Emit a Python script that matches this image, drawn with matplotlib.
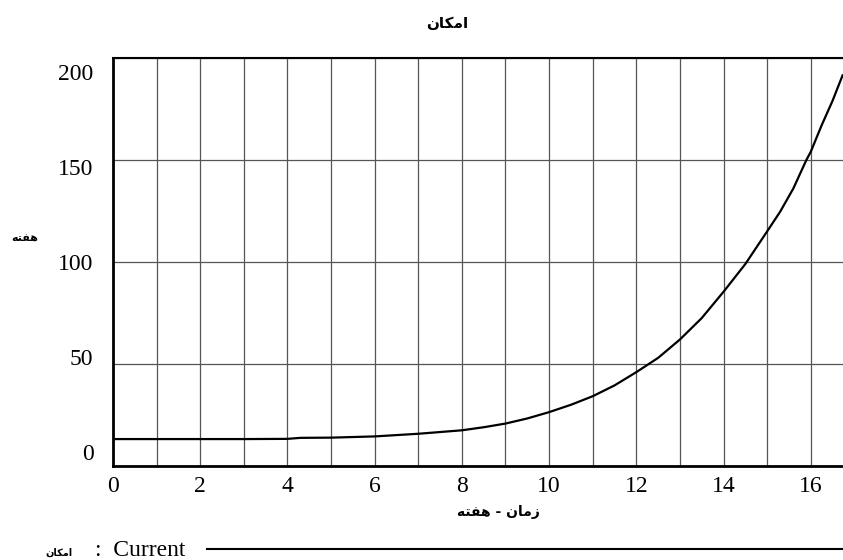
import numpy as np
import matplotlib.pyplot as plt
from matplotlib.lines import Line2D

# Persian strings given in presentation forms, visual order (matplotlib has no shaping)
title_txt = "\uFEE5\uFE8E\uFB91\uFEE3\uFE8D"                       # امکان
ylabel_txt = "\uFEEA\uFE98\uFED4\uFEEB"                            # هفته
xlabel_txt = "\uFEEA\uFE98\uFED4\uFEEB - \uFEE5\uFE8E\uFEE3\uFEAF"  # زمان - هفته

# values
weeks = [0, 1, 2, 3, 4, 4.3, 5, 6, 7, 8, 8.5, 9, 9.5, 10, 10.5, 11, 11.5,
         12, 12.5, 13, 13.5, 14, 14.5, 15, 15.3, 15.6, 15.9, 16, 16.25,
         16.5, 16.73]
current = [13.2, 13.2, 13.2, 13.2, 13.3, 13.8, 13.9, 14.5, 15.8, 17.5, 19.0,
           20.8, 23.3, 26.4, 30.0, 34.2, 39.5, 46.0, 53.0, 62.0, 72.5, 85.4,
           99.0, 115.0, 124.7, 136.0, 150.0, 154.0, 167.0, 179.0, 191.5]

xtick_vals = [0, 2, 4, 6, 8, 10, 12, 14, 16]
ytick_vals = [0, 50, 100, 150, 200]

W, H = 843, 560
fig = plt.figure(figsize=(W / 100, H / 100), dpi=100)
ax = fig.add_axes([113 / W, 1 - 466 / H, 1 - 113 / W, 408 / H])

ax.plot(weeks, current, color="black", lw=1.6, zorder=3)

ax.set_xlim(0, 16.74)
ax.set_ylim(0, 200)

# vertical grid every week, labels every 2 weeks
ax.set_xticks(xtick_vals)
ax.set_xticks(np.arange(0, 17, 1), minor=True)
ax.set_xticklabels([str(v) for v in xtick_vals])
ax.grid(axis="x", which="both", color="#555555", lw=0.9)

# horizontal grid every 50, labels spread inside the frame like the original
ax.set_yticks(ytick_vals, minor=True)
ax.grid(axis="y", which="minor", color="#555555", lw=0.9)
ax.set_yticks([6.86 + v * 0.931 for v in ytick_vals])
ax.set_yticklabels([str(v) for v in ytick_vals])

ax.tick_params(which="both", length=0)
ax.tick_params(axis="x", pad=7)
ax.tick_params(axis="y", pad=14)
for lab in ax.get_xticklabels() + ax.get_yticklabels():
    lab.set_fontfamily("Liberation Serif")
    lab.set_fontsize(17)

ax.spines["right"].set_visible(False)
ax.spines["left"].set_linewidth(2)
ax.spines["bottom"].set_linewidth(2)
ax.spines["top"].set_linewidth(1.5)

fa = dict(family="DejaVu Sans", fontweight="bold")
fig.text(447 / W, 1 - 24 / H, title_txt, ha="center", va="center",
         fontsize=11, **fa)
fig.text(25 / W, 1 - 239 / H, ylabel_txt, ha="center", va="center",
         fontsize=8, **fa)
fig.text(498 / W, 1 - 512 / H, xlabel_txt, ha="center", va="center",
         fontsize=10, **fa)

# legend row
fig.text(72 / W, 1 - 553 / H, title_txt, ha="right", va="center",
         fontsize=7, **fa)
fig.text(95 / W, 1 - 551 / H, ":  Current", ha="left", va="center",
         fontsize=17, family="Liberation Serif")
fig.add_artist(Line2D([207 / W, 1.0], [1 - 549 / H, 1 - 549 / H],
                      transform=fig.transFigure, color="black", lw=1.5))

fig.savefig("out.png", dpi=100)
